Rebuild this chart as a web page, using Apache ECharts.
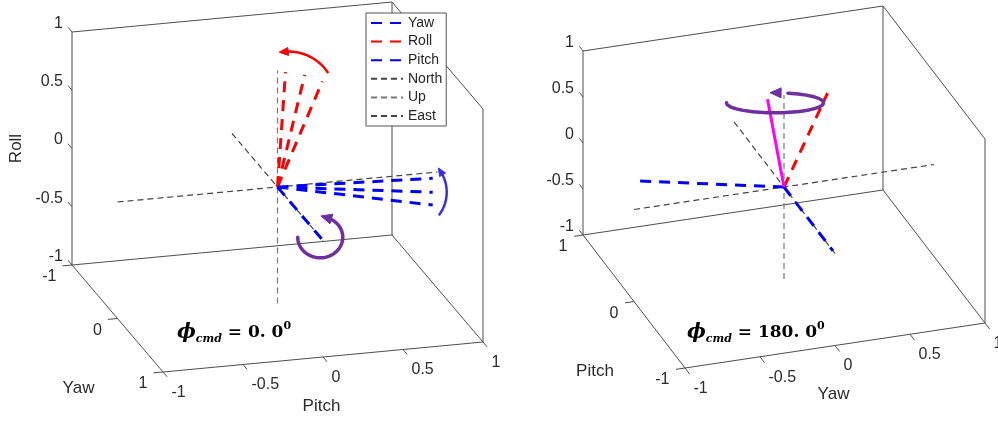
<!DOCTYPE html>
<html><head><meta charset="utf-8">
<script src="https://cdn.jsdelivr.net/npm/echarts@6/dist/echarts.min.js"></script>
<style>html,body{margin:0;padding:0;background:#fff}#c{width:998px;height:422px}</style>
</head><body><div id="c"></div>
<script>
// ---------------- data (panel coordinates: [front axis, depth axis, vertical axis]) ----------------
const frontTicks = [-1, -0.5, 0, 0.5, 1];
const depthTicks = [-1, 0, 1];
const vertTicks = [-1, -0.5, 0, 0.5, 1];
const tickText = {'-1':'-1','-0.5':'-0.5','0':'0','0.5':'0.5','1':'1'};

// reference frame guides (segment endpoints)
const northSeg = [[-1, 0, 0], [1, 0, 0]];
const upSeg = [[0, 0, -1], [0, 0, 1]];
const eastSeg = [[0, -1, 0], [0, 1, 0]];

// panel 1: phi_cmd = 0.0  -> axes [Pitch, Yaw, Roll]
const p1YawVec = [[0, 0.98, 0]];
const p1RollVec = [[0.05, 0, 0.98], [0.17, 0, 0.94], [0.28, 0, 0.87]];
const p1PitchVec = [[0.97, 0, -0.05], [0.97, 0, -0.17], [0.97, 0, -0.28]];

// panel 2: phi_cmd = 180.0 -> axes [Yaw, Pitch, Roll]
const p2YawVec = [[-0.96, 0, 0.30]];
const p2RollVec = [[0.29, 0, 0.95]];
const p2PitchVec = [[0, -0.96, 0]];
const p2CmdVec = [[-0.11, 0, 0.98]];

const legendNames = ['Yaw', 'Roll', 'Pitch', 'North', 'Up', 'East'];
const phiTexts = ['0.0', '180.0'];

// ---------------- layout / projection ----------------
const panels = [
  {c:[277.5,187], ex:[160,-15], ey:[45.5,53.5], ez:[0,-116.5], yf:1, vt:0.09,
   names:{front:'Pitch', depth:'Yaw', vert:'Roll'}, phiPos:[177,333]},
  {c:[784,187], ex:[150,-22.5], ey:[-51,-66.5], ez:[0,-92], yf:-1, vt:0.07,
   names:{front:'Yaw', depth:'Pitch', vert:null}, phiPos:[687,333]}
];
function proj(P, v){
  return [P.c[0] + v[0]*P.ex[0] + v[1]*P.ey[0] + v[2]*P.ez[0],
          P.c[1] + v[0]*P.ex[1] + v[1]*P.ey[1] + v[2]*P.ez[1]];
}
function segData(P, segs){
  const out = [];
  segs.forEach((s, i) => { if (i) out.push(['-','-']); out.push(proj(P, s[0]), proj(P, s[1])); });
  return out;
}
const fromOrigin = vecs => vecs.map(v => [[0,0,0], v]);

const FONT = 'Liberation Sans, Arial, sans-serif';
const series = [];
const labels = [];
const arcs = [
  {p:0, anchor:[0.07,0,0.75], rx:47, ry:47, a0:34, a1:95, color:'#FF0000', w:2.5, head:9, headW:8},
  {p:0, anchor:[0.82,0,-0.15], rx:38, ry:38, a0:-36, a1:32, color:'#3b2ee8', w:2.5, head:8, headW:7},
  {p:0, anchor:[0,0.94,0], rx:22.5, ry:20.5, a0:180, a1:432, color:'#7030A0', w:3.5, head:11, headW:10},
  {p:1, anchor:[-0.06,0,0.93], rx:48.5, ry:10, a0:180, a1:448, color:'#7030A0', w:3.5, head:11, headW:10}
];

function lineSeries(name, data, color, width, dash, z){
  return {type:'line', name, data, symbol:'none', showSymbol:false, silent:true, animation:false,
    connectNulls:false, z, lineStyle:{color, width, type:dash}, itemStyle:{color}, emphasis:{disabled:true}};
}

panels.forEach((P, pi) => {
  const yb = -P.yf, yf = P.yf;
  const box = [
    [[-1,yb,-1],[-1,yb,1]], [[1,yb,-1],[1,yb,1]], [[1,yf,-1],[1,yf,1]],
    [[-1,yb,1],[1,yb,1]], [[1,yb,1],[1,yf,1]],
    [[-1,yb,-1],[1,yb,-1]], [[-1,yb,-1],[-1,yf,-1]], [[-1,yf,-1],[1,yf,-1]], [[1,yb,-1],[1,yf,-1]]
  ];
  vertTicks.forEach(t => {
    box.push([[-1,yb,t],[-1,yb+yb*P.vt,t]]);
    const a = proj(P,[-1,yb,t]);
    labels.push({pos:[a[0]-9, a[1]-8.5], text:tickText[String(t)], align:'right', size:16});
  });
  depthTicks.forEach(t => {
    box.push([[-1,t,-1],[-1.06,t,-1]]);
    const a = proj(P,[-1,t,-1]);
    labels.push({pos:[a[0]-15.5, a[1]+12], text:tickText[String(t)], align:'right', size:16});
  });
  frontTicks.forEach(t => {
    box.push([[t,yf,-1],[t,yf+yf*0.09,-1]]);
    const a = proj(P,[t,yf,-1]);
    labels.push({pos:[a[0]+8.5, a[1]+20.5], text:tickText[String(t)], align:'left', size:16});
  });
  // axis titles
  const fm = proj(P,[0,yf,-1]);
  labels.push({pos:[fm[0]-1.5, fm[1]+49], text:P.names.front, align:'center', size:17});
  const dm = proj(P,[-1,0,-1]);
  labels.push({pos:[dm[0]-39, dm[1]+70], text:P.names.depth, align:'center', size:17});
  if (P.names.vert){
    const vm = proj(P,[-1,yb,0]);
    labels.push({pos:[vm[0]-56, vm[1]], text:P.names.vert, align:'center', size:17, rot:Math.PI/2});
  }

  series.push(lineSeries('box'+pi, segData(P, box), '#4d4d4d', 1, 'solid', 1));
  series.push(lineSeries('North', segData(P,[northSeg]), '#444444', 1.2, [6,4], 2));
  series.push(lineSeries('Up', segData(P,[upSeg]), '#777777', 1.2, [6,4], 2));
  series.push(lineSeries('East', segData(P,[eastSeg]), '#444444', 1.2, [6,4], 2));
  const yawV = pi===0 ? p1YawVec : p2YawVec;
  const rollV = pi===0 ? p1RollVec : p2RollVec;
  const pitchV = pi===0 ? p1PitchVec : p2PitchVec;
  series.push(lineSeries('Yaw', segData(P, fromOrigin(yawV)), '#0000FF', 3, [11,8], 3));
  series.push(lineSeries('Roll', segData(P, fromOrigin(rollV)), '#FF0000', 3, [11,8], 3));
  series.push(lineSeries('Pitch', segData(P, fromOrigin(pitchV)), '#0000FF', 3, [11,8], 3));
  if (pi===1) series.push(lineSeries('Command', segData(P, fromOrigin(p2CmdVec)), '#FF00FF', 3, 'solid', 3));
});

series.push({
  type:'custom', name:'ticklabels', coordinateSystem:'cartesian2d', silent:true, animation:false, z:5,
  dimensions:['x','y','i'], encode:{x:0, y:1},
  data: labels.map((d,i) => [d.pos[0], d.pos[1], i]),
  renderItem(params, api){
    const d = labels[api.value(2)];
    const p = api.coord([api.value(0), api.value(1)]);
    return {type:'text', x:p[0], y:p[1], rotation:d.rot||0,
      style:{text:d.text, align:d.align, verticalAlign:'middle', fontSize:d.size, fontFamily:FONT, fill:'#2b2b2b'}};
  }
});

series.push({
  type:'custom', name:'arrows', coordinateSystem:'cartesian2d', silent:true, animation:false, z:6,
  dimensions:['x','y','i'], encode:{x:0, y:1},
  data: arcs.map((a,i) => { const c = proj(panels[a.p], a.anchor); return [c[0], c[1], i]; }),
  renderItem(params, api){
    const a = arcs[api.value(2)];
    const c = api.coord([api.value(0), api.value(1)]);
    const pts = []; const N = 60;
    for (let k=0;k<=N;k++){
      const t = (a.a0 + (a.a1-a.a0)*k/N)*Math.PI/180;
      pts.push([c[0] + a.rx*Math.cos(t), c[1] - a.ry*Math.sin(t)]);
    }
    const t1 = a.a1*Math.PI/180;
    let dx = -a.rx*Math.sin(t1), dy = -a.ry*Math.cos(t1);
    const L = Math.hypot(dx,dy); dx/=L; dy/=L;
    const e = pts[pts.length-1];
    const tip = [e[0]+dx*a.head*0.6, e[1]+dy*a.head*0.6];
    const base = [e[0]-dx*a.head*0.4, e[1]-dy*a.head*0.4];
    const n = [-dy, dx], w = a.headW/2;
    return {type:'group', children:[
      {type:'polyline', shape:{points:pts.slice(0, N-2)}, style:{stroke:a.color, lineWidth:a.w, fill:'none', lineCap:'round'}},
      {type:'polygon', shape:{points:[tip,[base[0]+n[0]*w, base[1]+n[1]*w],[base[0]-n[0]*w, base[1]-n[1]*w]]},
       style:{fill:a.color, stroke:a.color, lineWidth:1}}
    ]};
  }
});

const graphics = panels.map((P, pi) => ({
  type:'text', x:P.phiPos[0], y:P.phiPos[1], z:10,
  style:{
    text:'{phi|ϕ}{sub|cmd}{eq| = }{num|' + phiTexts[pi].replace('.', '. ') + '}{sup|0}',
    verticalAlign:'middle', align:'left',
    rich:{
      phi:{fontFamily:'DejaVu Serif', fontStyle:'italic', fontWeight:'bold', fontSize:20, lineHeight:24, verticalAlign:'middle', fill:'#000'},
      sub:{fontFamily:'DejaVu Serif', fontStyle:'italic', fontWeight:'bold', fontSize:11, lineHeight:11, verticalAlign:'bottom', fill:'#000'},
      eq:{fontFamily:'DejaVu Serif', fontWeight:'bold', fontSize:17, lineHeight:24, verticalAlign:'middle', fill:'#000'},
      num:{fontFamily:'DejaVu Serif', fontWeight:'bold', fontSize:17, lineHeight:24, verticalAlign:'middle', fill:'#000'},
      sup:{fontFamily:'DejaVu Serif', fontWeight:'bold', fontSize:11, lineHeight:11, verticalAlign:'top', fill:'#000'}
    }
  }
}));

const chart = echarts.init(document.getElementById('c'), null, {renderer:'canvas'});
chart.setOption({
  animation:false,
  backgroundColor:'#ffffff',
  grid:{left:0, right:0, top:0, bottom:0, containLabel:false},
  xAxis:{type:'value', min:0, max:998, show:false},
  yAxis:{type:'value', min:0, max:422, inverse:true, show:false},
  legend:{data:legendNames, orient:'vertical', left:366, top:13, itemWidth:32, itemHeight:14, itemGap:4.6,
    padding:[3,4,3,4], borderColor:'#555', borderWidth:1, borderRadius:0, backgroundColor:'#fff',
    selectedMode:false, itemStyle:{opacity:0, color:'rgba(0,0,0,0)', borderWidth:0},
    textStyle:{fontSize:14, color:'#262626', fontFamily:FONT}, z:8},
  graphic: graphics,
  series
});
</script></body></html>
